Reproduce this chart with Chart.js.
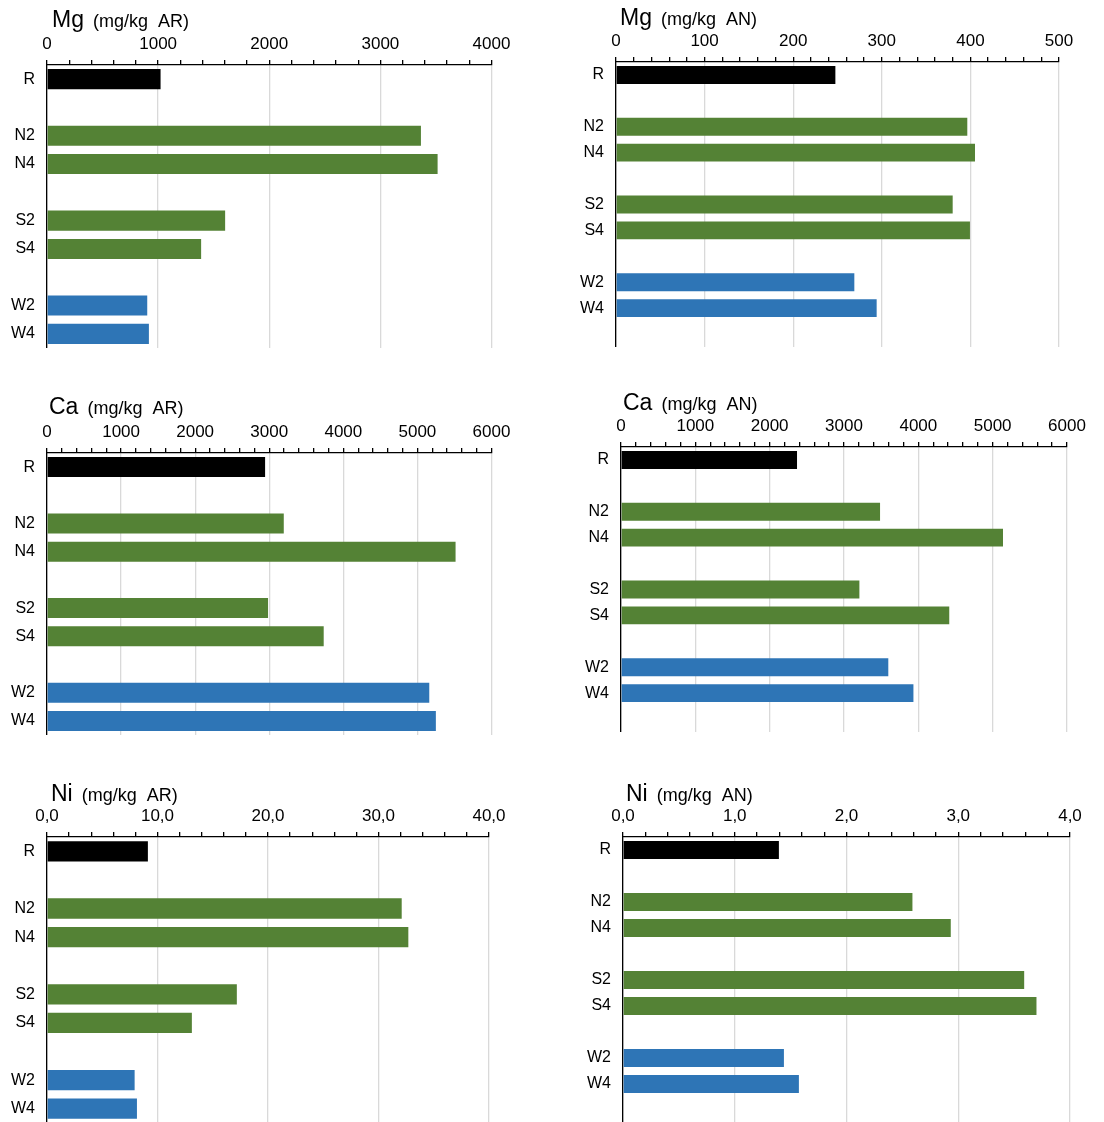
<!DOCTYPE html>
<html><head><meta charset="utf-8">
<script src="https://cdn.jsdelivr.net/npm/chart.js@4.4.1/dist/chart.umd.min.js"></script>
<style>
html,body{margin:0;padding:0;background:#fff;overflow:hidden;width:1104px;height:1122px;position:relative;}
canvas{position:absolute;}
</style></head><body>
<script>
// ---- data ----
const categories = ['R', 'N2', 'N4', 'S2', 'S4', 'W2', 'W4'];
const mgAR = [1022, 3365, 3515, 1603, 1387, 902, 917];
const mgAN = [247.6, 396.5, 405.2, 380, 399.5, 269, 294.2];
const caAR = [2944, 3196, 5515, 2984, 3735, 5160, 5249];
const caAN = [2368, 3485, 5139, 3207, 4416, 3596, 3934];
const niAR = [9.13, 32.1, 32.7, 17.18, 13.11, 7.93, 8.14];
const niAN = [1.395, 2.59, 2.933, 3.59, 3.70, 1.44, 1.574];
const titleMain = ['Mg', 'Mg', 'Ca', 'Ca', 'Ni', 'Ni'];
const titleSub = ['(mg/kg  AR)', '(mg/kg  AN)', '(mg/kg  AR)', '(mg/kg  AN)', '(mg/kg  AR)', '(mg/kg  AN)'];
const axisMax = [4000, 500, 6000, 6000, 40, 4];
const axisMajor = [1000, 100, 1000, 1000, 10, 1];
const axisMinor = [200, 20, 200, 200, 2, 0.2];
const axisDecimals = [0, 0, 0, 0, 1, 1];

const FONT = '"Liberation Sans", Arial, sans-serif';
const groupColor = { R: '#000000', N: '#548235', S: '#548235', W: '#2E75B6' };

const panelTitle = {
  id: 'panelTitle',
  afterDraw(chart, args, opts) {
    if (!opts || !opts.main) return;
    const { ctx, chartArea } = chart;
    ctx.save();
    ctx.fillStyle = '#000';
    ctx.textBaseline = 'alphabetic';
    ctx.textAlign = 'left';
    ctx.font = '23px ' + FONT;
    const x = chartArea.left + opts.dx, y = chartArea.top - opts.dy;
    ctx.fillText(opts.main, x, y);
    const w = ctx.measureText(opts.main).width;
    ctx.font = '18px ' + FONT;
    ctx.fillText(opts.sub, x + w + 9, y);
    ctx.restore();
  }
};
Chart.register(panelTitle);

function buildSlots(values, trailing) {
  const labels = [], data = [], colors = [];
  let prev = null;
  categories.forEach((c, i) => {
    const g = c[0];
    if (prev !== null && g !== prev) { labels.push(''); data.push(null); colors.push('#fff'); }
    labels.push(c); data.push(values[i]); colors.push(groupColor[g]);
    prev = g;
  });
  if (trailing) { labels.push(''); data.push(null); colors.push('#fff'); }
  return { labels, data, colors };
}

function makePanel(k, values, geo) {
  const canvas = document.createElement('canvas');
  canvas.width = geo.cw; canvas.height = geo.ch;
  canvas.style.left = geo.cl + 'px'; canvas.style.top = geo.ct + 'px';
  canvas.style.width = geo.cw + 'px'; canvas.style.height = geo.ch + 'px';
  document.body.appendChild(canvas);
  const s = buildSlots(values, geo.trailing);
  const major = axisMajor[k], dec = axisDecimals[k];
  const isMajor = v => Math.abs(v / major - Math.round(v / major)) < 1e-6;
  const fmt = v => v.toFixed(dec).replace('.', ',');
  new Chart(canvas, {
    type: 'bar',
    data: { labels: s.labels, datasets: [{ data: s.data, backgroundColor: s.colors, borderWidth: 0, barPercentage: geo.bp, categoryPercentage: 1 }] },
    options: {
      indexAxis: 'y', responsive: false, animation: false, devicePixelRatio: 1,
      layout: { padding: { top: 0, left: 0, bottom: 0, right: geo.cw - (geo.R - geo.cl) } },
      plugins: {
        legend: { display: false }, tooltip: { enabled: false },
        panelTitle: { main: titleMain[k], sub: titleSub[k], dx: geo.tdx, dy: geo.tdy }
      },
      scales: {
        x: {
          type: 'linear', position: 'top', min: 0, max: axisMax[k],
          afterFit: sc => { sc.height = geo.T - geo.ct; sc.paddingLeft = 0; sc.paddingRight = 0; },
          ticks: {
            stepSize: axisMinor[k], maxTicksLimit: 200, autoSkip: false, maxRotation: 0, minRotation: 0,
            padding: 5, color: '#000', font: { family: FONT, size: 17 },
            callback: v => isMajor(v) ? fmt(v) : ''
          },
          grid: {
            color: c => (c.tick && isMajor(c.tick.value)) ? '#d9d9d9' : 'rgba(0,0,0,0)',
            tickColor: '#000', tickLength: 5, lineWidth: 1.3
          },
          border: { color: '#000', width: 1.3 }
        },
        y: {
          afterFit: sc => { sc.width = geo.L - geo.cl; sc.paddingTop = 0; sc.paddingBottom = 0; },
          ticks: { autoSkip: false, padding: 12, color: '#000', font: { family: FONT, size: 16 } },
          grid: { display: true, drawOnChartArea: false, drawTicks: false },
          border: { color: '#000', width: 1.3 }
        }
      }
    }
  });
}

makePanel(0, mgAR, { cl: 0, ct: 0, cw: 522, ch: 348, L: 47, R: 491.5, T: 65, trailing: false, bp: 0.71, tdx: 5, tdy: 38.5 });
makePanel(1, mgAN, { cl: 560, ct: 0, cw: 529, ch: 347, L: 616, R: 1059, T: 62, trailing: true, bp: 0.69, tdx: 4, tdy: 37.5 });
makePanel(2, caAR, { cl: 0, ct: 370, cw: 522, ch: 365, L: 47, R: 491.5, T: 453, trailing: false, bp: 0.71, tdx: 2, tdy: 39 });
makePanel(3, caAN, { cl: 560, ct: 370, cw: 537, ch: 362, L: 621, R: 1067, T: 447, trailing: true, bp: 0.69, tdx: 2, tdy: 37 });
makePanel(4, niAR, { cl: 0, ct: 760, cw: 519, ch: 363, L: 47, R: 489, T: 837, trailing: false, bp: 0.71, tdx: 4, tdy: 36 });
makePanel(5, niAN, { cl: 560, ct: 760, cw: 540, ch: 363, L: 623, R: 1070, T: 837, trailing: true, bp: 0.69, tdx: 3, tdy: 36 });
</script>
</body></html>
